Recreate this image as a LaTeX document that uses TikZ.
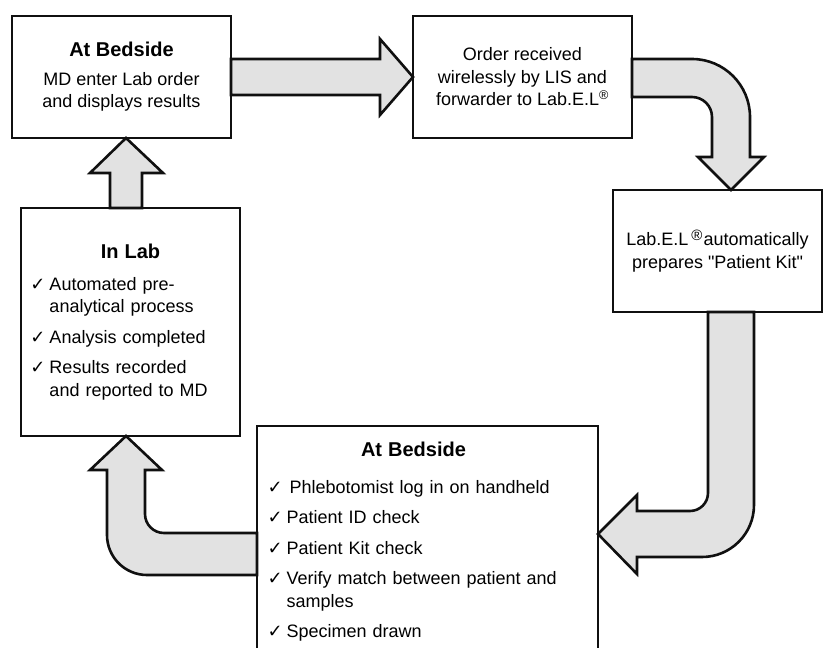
\documentclass[tikz,border=0pt]{standalone}
\usepackage{fontspec}
\setmainfont{Liberation Sans}
\newfontfamily\checkfont{DejaVu Sans}

\definecolor{arrow-fill-color}{HTML}{E2E2E2}
\definecolor{box-line-color}{HTML}{101010}

\newcommand{\ticked}{\makebox[19pt][l]{\checkfont\fontsize{18}{18}\selectfont ✓}}
\newcommand{\itemcont}{\hspace*{19pt}}
\newcommand{\boxtitle}[1]{{\fontsize{20}{24}\selectfont\bfseries #1}}

\begin{document}
\begin{tikzpicture}[x=1pt, y=1pt,
box/.style={draw=box-line-color, line width=2.6pt, fill=white, inner sep=0pt, outer sep=0pt},
fatarrow/.style={draw=box-line-color, line width=2.6pt, fill=arrow-fill-color, line join=miter}]
\tikzstyle{every node}=[font=\fontsize{18}{22.5}\selectfont]

\useasboundingbox (0,0) rectangle (823,-648);

\node (bed1) [box, minimum width=219, minimum height=122, align=center] at (121.5,-77)
    {\boxtitle{At Bedside}\\[6pt] MD enter Lab order\\ and displays results};
\node (order) [box, minimum width=219, minimum height=122, align=center] at (522.5,-77)
    {Order received\\ wirelessly by LIS and\\ forwarder to Lab.E.L\textsuperscript{®}};
\node (kit) [box, minimum width=209, minimum height=122, align=center] at (717.5,-251)
    {Lab.E.L\,\raisebox{5pt}{\fontsize{15}{15}\selectfont ®}\kern1pt automatically\\ prepares \textquotedbl Patient Kit\textquotedbl};
%
\node (lab) [box, minimum width=219, minimum height=228, text width=200, align=left] at (130.5,-322)
    {\makebox[200pt]{\boxtitle{In Lab}}\\[9pt]
     \ticked Automated pre-\\ \itemcont analytical process\\[8pt]
     \ticked Analysis completed\\[8pt]
     \ticked Results recorded\\ \itemcont and reported to MD};
%
\node (bed2) [box, minimum width=341, minimum height=232, text width=320, align=left, anchor=north west] at (257,-426)
    {\makebox[292pt]{\boxtitle{At Bedside}}\\[14pt]
     \ticked\,Phlebotomist log in on handheld\\[8pt]
     \ticked Patient ID check\\[8pt]
     \ticked Patient Kit check\\[8pt]
     \ticked Verify match between patient and\\ \itemcont samples\\[8pt]
     \ticked Specimen drawn};

% block arrows between the boxes
\draw[fatarrow] ([yshift=18]bed1.east) -- ++(149,0) -- ++(0,20) -- (order.west)
    -- ++(-33,-38) -- ++(0,20) -- ([yshift=-18]bed1.east) -- cycle;
%
\draw[fatarrow] ([yshift=18]order.east) -- ++(60,0) arc[start angle=90, end angle=0, radius=58]
    -- ++(0,-40) -- ++(14,0) -- ([xshift=13.5]kit.north) -- ++(-33,33) -- ++(14,0)
    -- ++(0,40) arc[start angle=0, end angle=90, radius=20] -- ([yshift=-20]order.east) -- cycle;
%
\draw[fatarrow] ([xshift=-9.5]kit.south) -- ++(0,-181) arc[start angle=0, end angle=-90, radius=18]
    -- ++(-53,0) -- ++(0,16) -- ([yshift=8]bed2.east) -- ++(39,-40) -- ++(0,17)
    -- ++(65,0) arc[start angle=-90, end angle=0, radius=52] -- ([xshift=36.5]kit.south) -- cycle;
%
\draw[fatarrow] ([yshift=9]bed2.west) -- ++(-93,0) arc[start angle=-90, end angle=-180, radius=19]
    -- ++(0,44) -- ++(17,0) -- ([xshift=-4.5]lab.south) -- ++(-36,-34) -- ++(17,0)
    -- ++(0,-65) arc[start angle=180, end angle=270, radius=40] -- ([yshift=-33]bed2.west) -- cycle;
%
\draw[fatarrow] ([xshift=-20.5]lab.north) -- ++(0,35) -- ++(-20,0) -- ([xshift=4.5]bed1.south)
    -- ++(37,-35) -- ++(-21,0) -- ([xshift=11.5]lab.north) -- cycle;

\end{tikzpicture}
\end{document}
